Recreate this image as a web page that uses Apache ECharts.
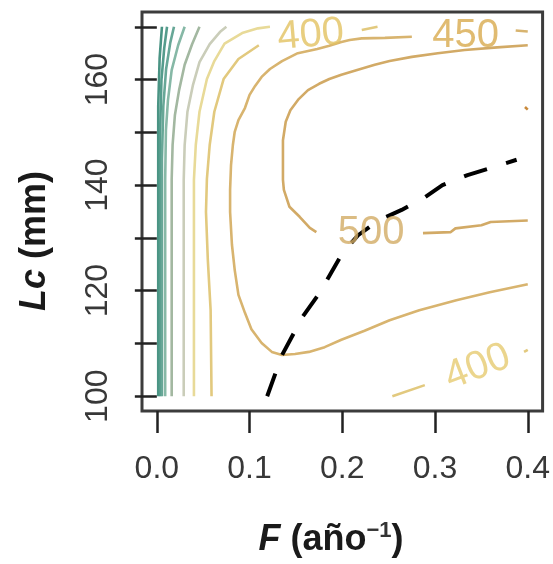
<!DOCTYPE html>
<html><head><meta charset="utf-8">
<script src="https://cdn.jsdelivr.net/npm/echarts@6/dist/echarts.min.js"></script>
<style>html,body{margin:0;padding:0;background:#fff}#c{width:553px;height:564px}</style>
</head><body><div id="c"></div>
<script>
// ---- axis ticks ----
const xTicks = [0, 0.1, 0.2, 0.3, 0.4];
const yTicks = [100, 110, 120, 130, 140, 150, 160, 170];
const yTickLabels = [100, 120, 140, 160];

// ---- contour levels (yield) ----
const levels = [50, 100, 150, 200, 250, 300, 350, 400, 450, 500, 550];

// each contour: list of segments, each segment list of [F, Lc]
const c50 = [[[0.0015,100],[0.0015,155],[0.003,164],[0.0055,170]]];
const c100 = [[[0.0035,100],[0.0035,150],[0.005,160],[0.008,166],[0.011,170]]];
const c150 = [[[0.0055,100],[0.0055,145],[0.007,155],[0.010,162],[0.0145,167],[0.0185,170]]];
const c200 = [[[0.009,100],[0.009,141],[0.0098,150.4],[0.012,156.1],[0.016,161.8],[0.023,166.5],[0.030,170]]];
const c250 = [[[0.016,100],[0.016,141],[0.017,147.6],[0.0195,153.3],[0.024,158],[0.030,162.8],[0.038,166.7],[0.046,170]]];
const c300 = [[[0.029,100],[0.029,141],[0.030,147.6],[0.033,153.9],[0.039,159],[0.046,163.3],[0.057,166.7],[0.068,169],[0.075,170]]];
const c350 = [[[0.040,100],[0.040,141],[0.042,147.6],[0.046,153.9],[0.054,160.1],[0.062,163.5],[0.073,166.8],[0.092,168.8],[0.109,169.7],[0.122,170]]];
const c400 = [
  [[0.059,100],[0.058,116.3],[0.055,125.8],[0.053,134.9],[0.054,141.2],[0.057,147.6],[0.062,153.9],[0.072,160.1],[0.088,163.9],[0.110,166.5]],
  [[0.221,169.4],[0.238,170]],
  [[0.254,100],[0.289,102.1]],
  [[0.396,108.4],[0.40,108.8]]
];
const c450 = [
  [[0.275,168.1],[0.246,167.9],[0.221,167.8],[0.208,167.5],[0.199,167.1],[0.186,166.4],[0.173,165.8],[0.152,165.0],[0.135,163.5],[0.122,162.0],[0.113,160.5],[0.106,158.8],[0.100,157.1],[0.095,154.6],[0.088,152.3],[0.084,150.1],[0.082,147.6],[0.080,143.8],[0.079,139.1],[0.079,134.9],[0.081,128.7],[0.084,123.9],[0.088,119.2],[0.095,115.8],[0.102,112.7],[0.113,110.1],[0.124,108.4],[0.135,107.8],[0.149,108.0],[0.164,108.4],[0.181,109.3],[0.199,110.7],[0.224,112.4],[0.251,114.4],[0.283,116.3],[0.323,118.2],[0.359,119.7],[0.40,121.2]],
  [[0.387,169.3],[0.40,169.1]]
];
const c500 = [
  [[0.40,166.5],[0.367,166.1],[0.332,165.6],[0.303,165.0],[0.275,164.3],[0.251,163.5],[0.235,162.8],[0.216,161.8],[0.199,160.9],[0.186,160.1],[0.175,159.2],[0.163,158.0],[0.153,156.3],[0.144,154.2],[0.139,152.0],[0.136,148.5],[0.136,144.8],[0.136,141.0],[0.137,139.1],[0.143,135.9],[0.154,134.0],[0.165,131.9],[0.172,131.1]],
  [[0.287,130.9],[0.317,131.1],[0.322,131.8],[0.350,132.4],[0.360,133.0],[0.40,133.3]]
];
const c550 = [[[0.397,154.8],[0.40,154.3]]];

// dashed optimum line [F, Lc]
const optLine = [[0.119,100],[0.135,107.8],[0.157,115.0],[0.176,119.7],[0.200,127.1],[0.217,130.5],[0.240,133.4],[0.264,135.3],[0.289,137.7],[0.308,140.0],[0.335,141.9],[0.359,143.2],[0.388,144.8]];

// contour labels: [level, F, Lc]
const contourLabels = [[400,0.166,168.4],[450,0.333,168.3],[500,0.231,130.9],[400,0.346,105.5]];

// ---- styles ----
const contourSets = {50:c50,100:c100,150:c150,200:c200,250:c250,300:c300,350:c350,400:c400,450:c450,500:c500,550:c550};
const levelColors = {50:'#4a9484',100:'#559c8c',150:'#67a797',200:'#86b8a6',250:'#a3b8a1',300:'#cacdb9',350:'#e8da98',400:'#e2c97e',450:'#d8b46f',500:'#d2aa66',550:'#c98a3c'};
const labelColors = ['#e2c260','#d8aa4e','#d2ab64','#e6ca70'];
const labelAngles = [5, 0, 0, 21];

const FONT = 'Liberation Sans';
const series = [];
levels.forEach(lv => {
  contourSets[lv].forEach(seg => {
    series.push({type:'line', data: seg, symbol:'none', showSymbol:false, silent:true,
      lineStyle:{color: levelColors[lv], width: 2.6}, z: 2});
  });
});
series.push({type:'line', data: optLine, symbol:'none', showSymbol:false, silent:true,
  lineStyle:{color:'#000', width:4, type:[24,20], cap:'butt'}, z: 3});
series.push({type:'scatter', symbol:'circle', symbolSize:1, silent:true, z:4,
  itemStyle:{color:'rgba(0,0,0,0)'},
  data: contourLabels.map((d,i) => ({value:[d[1], d[2], d[0]],
    label:{show:true, position:'inside', formatter: String(d[0]), color: labelColors[i], rotate: labelAngles[i],
      fontSize: 40, fontFamily: FONT}}))
});

const chart = echarts.init(document.getElementById('c'), null, {renderer:'canvas'});
chart.setOption({
  animation: false,
  backgroundColor: '#fff',
  grid: {left:142, top:12, width:401, height:399, show:true, borderColor:'#3c3c3c', borderWidth:3, backgroundColor:'#fff'},
  xAxis: {type:'value', min:-0.016, max:0.416,
    axisLine:{show:false}, splitLine:{show:false},
    axisTick:{show:true, customValues:xTicks, length:22, lineStyle:{color:'#222', width:2.5}},
    axisLabel:{customValues:xTicks, formatter: v => v.toFixed(1), fontSize:32, color:'#383838', fontFamily:FONT, margin:42}
  },
  yAxis: {type:'value', min:97.2, max:172.8,
    axisLine:{show:false}, splitLine:{show:false},
    axisTick:{show:true, customValues:yTicks, length:22, lineStyle:{color:'#222', width:2.5}},
    axisLabel:{customValues:yTickLabels, rotate:90, fontSize:32, color:'#383838', fontFamily:FONT, margin:28}
  },
  graphic: [
    {type:'text', x:35, y:241, rotation:Math.PI/2, silent:true,
      style:{text:'{i|Lc}{b| (mm)}', align:'center', verticalAlign:'middle', fill:'#1a1a1a',
        rich:{i:{fontStyle:'italic', fontWeight:'bold', fontSize:36, fontFamily:FONT, fill:'#1a1a1a'},
              b:{fontWeight:'bold', fontSize:36, fontFamily:FONT, fill:'#1a1a1a'}}}},
    {type:'text', x:331, y:540, silent:true,
      style:{text:'{i|F}{b| (año}{s|−1}{b|)}', align:'center', verticalAlign:'middle', fill:'#1a1a1a',
        rich:{i:{fontStyle:'italic', fontWeight:'bold', fontSize:36, lineHeight:40, fontFamily:FONT, fill:'#1a1a1a'},
              b:{fontWeight:'bold', fontSize:36, lineHeight:40, fontFamily:FONT, fill:'#1a1a1a'},
              s:{fontWeight:'bold', fontSize:22, lineHeight:22, verticalAlign:'top', fontFamily:FONT, fill:'#333'}}}}
  ],
  series: series
});
</script></body></html>
